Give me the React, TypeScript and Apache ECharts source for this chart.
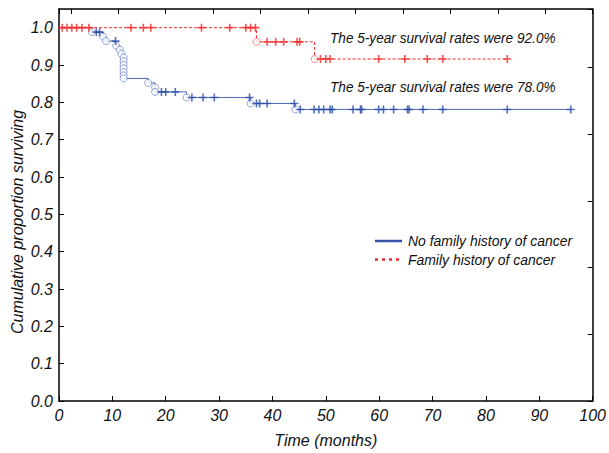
import React, { useEffect, useRef } from "react";
import * as echarts from "echarts";

// Kaplan-Meier data
const noFamEventTimes = [6.2, 8.3, 8.8, 10.7, 11.4, 11.7, 12.1, 12.1, 12.1, 12.1, 12.1, 12.1, 12.1, 16.7, 18.0, 18.0, 23.9, 35.9, 44.3];
const noFamEventSurv = [0.988, 0.976, 0.964, 0.952, 0.941, 0.930, 0.920, 0.910, 0.900, 0.891, 0.881, 0.872, 0.864, 0.852, 0.840, 0.828, 0.813, 0.797, 0.781];
const noFamCensored = [7.0, 7.6, 10.6, 19.2, 20.0, 21.8, 24.9, 27.0, 29.1, 35.7, 37.0, 37.6, 39.0, 44.1, 45.2, 47.8, 48.7, 49.6, 50.8, 51.2, 55.1, 56.5, 56.7, 59.9, 60.8, 62.7, 65.3, 65.6, 68.2, 71.9, 84.0, 95.9];
const noFamEnd = 96;

const famEventTimes = [37.0, 47.9];
const famEventSurv = [0.962, 0.916];
const famCensored = [0.6, 1.5, 2.4, 3.3, 4.3, 5.6, 13.5, 15.8, 17.2, 26.7, 32.0, 35.0, 35.9, 36.8, 39.0, 40.6, 42.1, 44.6, 45.1, 49.0, 50.0, 50.8, 59.9, 64.8, 69.0, 71.9, 84.0];
const famEnd = 84;

const yTicks = [0, 0.1, 0.2, 0.3, 0.4, 0.5, 0.6, 0.7, 0.8, 0.9, 1.0];
const xTicks = [0, 10, 20, 30, 40, 50, 60, 70, 80, 90, 100];

const annot92 = "The 5-year survival rates were 92.0%";
const annot78 = "The 5-year survival rates were 78.0%";
const legendNames = ["No family history of cancer", "Family history of cancer"];

const BLUE = "#4a68bd";
const BLUE_LIGHT = "#6680c8";
const BLUE_DARK = "#2c4ca6";
const RED = "#f22a2a";
const FONT = "'Liberation Sans', Arial, Helvetica, sans-serif";

const PLUS = "path://M4,0H6V4H10V6H6V10H4V6H0V4H4Z";

function stepData(times: number[], surv: number[], end: number) {
  const pts: number[][] = [[0, 1]];
  times.forEach((t, i) => pts.push([t, surv[i]]));
  pts.push([end, surv[surv.length - 1]]);
  return pts;
}
function survAt(times: number[], surv: number[], t: number) {
  let s = 1;
  times.forEach((et, i) => {
    if (et < t) s = surv[i];
  });
  return s;
}

export default function App() {
  const ref = useRef<HTMLDivElement>(null);
  useEffect(() => {
    if (!ref.current) return;
    const chart = echarts.init(ref.current, undefined, { renderer: "svg" });
    const labelStyle = { fontFamily: FONT, fontStyle: "italic" as const, fontSize: 16, color: "#111" };
    const axisCommon = {
      axisLine: { show: true, onZero: false, lineStyle: { color: "#000", width: 1.5 } },
      axisTick: { show: true, inside: true, length: 5, lineStyle: { color: "#000", width: 1 } },
      splitLine: { show: false },
    };
    chart.setOption({
      animation: false,
      backgroundColor: "#ffffff",
      grid: { left: 59, right: 11, top: 9, bottom: 50 },
      xAxis: [
        {
          type: "value",
          min: 0,
          max: 100,
          interval: 10,
          position: "bottom",
          ...axisCommon,
          axisLabel: { ...labelStyle, margin: 6, formatter: (v: number) => (xTicks.includes(v) ? String(v) : "") },
          name: "Time (months)",
          nameLocation: "middle",
          nameGap: 31,
          nameTextStyle: { ...labelStyle },
        },
        {
          type: "value",
          min: 0,
          max: 11.25,
          interval: 1,
          inverse: true,
          position: "top",
          ...axisCommon,
          axisLabel: { show: false },
        },
      ],
      yAxis: [
        {
          type: "value",
          min: 0,
          max: 1.05,
          interval: 0.1,
          position: "left",
          ...axisCommon,
          axisLabel: {
            ...labelStyle,
            margin: 6,
            showMaxLabel: false,
            formatter: (v: number) => {
              const m = yTicks.find((t) => Math.abs(t - v) < 1e-6);
              return m === undefined ? "" : m.toFixed(1);
            },
          },
        },
        {
          type: "value",
          min: 0,
          max: 5.88,
          interval: 1,
          position: "right",
          ...axisCommon,
          axisLabel: { show: false },
        },
      ],
      series: [
        {
          type: "line",
          step: "end",
          data: stepData(famEventTimes, famEventSurv, famEnd),
          showSymbol: false,
          lineStyle: { color: RED, width: 1, type: [3, 2] },
          z: 3,
        },
        {
          type: "scatter",
          data: famEventTimes.map((t, i) => [t, famEventSurv[i]]),
          symbol: "circle",
          symbolSize: 7,
          itemStyle: { color: "#ffffff", borderColor: "#f55a5a", borderWidth: 0.9 },
          z: 4,
        },
        {
          type: "scatter",
          data: famCensored.map((t) => [t, survAt(famEventTimes, famEventSurv, t)]),
          symbol: PLUS,
          symbolSize: 8,
          itemStyle: { color: RED },
          z: 5,
        },
        {
          type: "line",
          step: "end",
          data: stepData(noFamEventTimes, noFamEventSurv, noFamEnd),
          showSymbol: false,
          lineStyle: { color: BLUE, width: 1 },
          z: 2,
        },
        {
          type: "scatter",
          data: noFamEventTimes.map((t, i) => [t, noFamEventSurv[i]]),
          symbol: "circle",
          symbolSize: 7,
          itemStyle: { color: "#ffffff", borderColor: BLUE_LIGHT, borderWidth: 0.9 },
          z: 4,
        },
        {
          type: "scatter",
          data: noFamCensored.map((t) => [t, survAt(noFamEventTimes, noFamEventSurv, t)]),
          symbol: PLUS,
          symbolSize: 8,
          itemStyle: { color: BLUE_DARK },
          z: 5,
        },
      ],
      graphic: [
        {
          type: "text",
          x: 17,
          y: 222,
          rotation: Math.PI / 2,
          style: { text: "Cumulative proportion surviving", font: `italic 16px ${FONT}`, fill: "#111", align: "center", verticalAlign: "middle" },
        },
        {
          type: "text",
          x: 330,
          y: 38,
          scaleX: 0.88,
          style: { text: annot92, font: `italic 15.5px ${FONT}`, fill: "#111", align: "left", verticalAlign: "middle" },
        },
        {
          type: "text",
          x: 330,
          y: 87,
          scaleX: 0.88,
          style: { text: annot78, font: `italic 15.5px ${FONT}`, fill: "#111", align: "left", verticalAlign: "middle" },
        },
        {
          type: "line",
          shape: { x1: 375, y1: 241, x2: 402, y2: 241 },
          style: { stroke: "#3552a8", lineWidth: 2.5 },
        },
        {
          type: "line",
          shape: { x1: 375, y1: 259.5, x2: 402, y2: 259.5 },
          style: { stroke: RED, lineWidth: 2.5, lineDash: [3, 4] },
        },
        {
          type: "text",
          x: 408,
          y: 241,
          scaleX: 0.93,
          style: { text: legendNames[0], font: `italic 15px ${FONT}`, fill: "#111", align: "left", verticalAlign: "middle" },
        },
        {
          type: "text",
          x: 408,
          y: 260,
          scaleX: 0.93,
          style: { text: legendNames[1], font: `italic 15px ${FONT}`, fill: "#111", align: "left", verticalAlign: "middle" },
        },
      ],
    });
    return () => chart.dispose();
  }, []);
  return <div ref={ref} style={{ position: "fixed", left: 0, top: 0, width: 609, height: 453, background: "#fff" }} />;
}
